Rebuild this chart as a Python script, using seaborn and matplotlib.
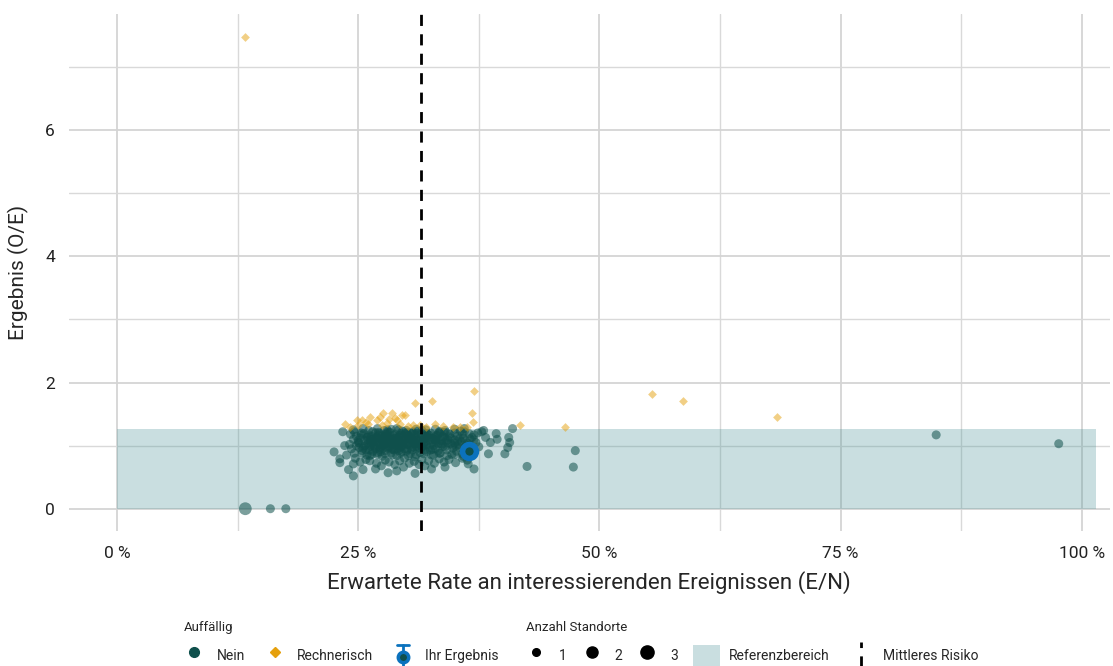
import numpy as np
import pandas as pd
import seaborn as sns
import matplotlib.pyplot as plt
from matplotlib.lines import Line2D
from matplotlib.patches import Patch
from matplotlib.legend_handler import HandlerBase
from matplotlib.ticker import FuncFormatter, MultipleLocator

# Erwartete Rate (E/N) in %, Ergebnis (O/E) -- Standorte "Nein"
nein_x = [
    24.1, 24.3, 24.5, 24.6, 24.8, 25.0, 25.1, 25.3, 25.4, 25.6, 25.7, 25.9, 25.9, 24.2, 24.7, 25.2, 25.8,
    26.0, 26.1, 26.2, 26.3, 26.4, 26.5, 26.6, 26.7, 26.8, 26.9, 27.0, 27.1, 27.2, 27.3, 27.4, 27.5, 27.6,
    27.7, 27.8, 27.9, 26.2, 26.9, 27.4, 27.8, 26.5, 27.0, 27.5, 26.3, 27.2, 27.7,
    28.0, 28.1, 28.2, 28.3, 28.4, 28.5, 28.6, 28.7, 28.8, 28.9, 29.0, 29.1, 29.2, 29.3, 29.4, 29.5, 29.6,
    29.7, 29.8, 29.9, 28.2, 28.8, 29.3, 29.7, 28.5, 29.0, 29.5, 28.0, 28.7, 29.2, 29.9, 28.4, 29.6,
    30.0, 30.1, 30.2, 30.3, 30.4, 30.5, 30.6, 30.7, 30.8, 30.9, 31.0, 31.1, 31.2, 31.3, 31.4, 31.5, 31.6,
    31.7, 31.8, 31.9, 30.3, 30.8, 31.3, 31.9, 30.6, 31.1, 31.6, 30.0, 30.9,
    32.0, 32.1, 32.2, 32.4, 32.5, 32.6, 32.8, 32.9, 33.0, 33.2, 33.3, 33.5, 33.6, 33.8, 33.9, 32.3, 32.9,
    33.4, 33.9, 32.7, 33.1,
    34.0, 34.2, 34.3, 34.5, 34.7, 34.8, 35.0, 35.2, 35.3, 35.5, 35.7, 35.9, 36.0, 36.2, 36.4, 36.6, 36.8,
    37.0, 34.4, 35.1, 35.8, 36.3, 37.2, 37.4,
    25.2, 25.6, 26.0, 26.4, 26.7, 27.1, 27.3, 27.6, 27.9, 28.3, 28.6, 28.9, 29.1, 29.4, 29.8, 30.1, 30.4,
    30.7, 31.0, 31.2, 31.5, 31.8, 32.1, 32.4, 32.7, 33.0, 33.3, 33.7, 34.1, 34.6, 35.0, 35.4, 35.9,
    26.1, 27.0, 28.0, 29.0, 30.0, 31.0, 32.0, 33.0, 34.0, 35.0, 36.0, 24.5, 25.5,
    26.6, 27.4, 28.1, 28.8, 29.5, 30.2, 30.9, 31.6, 32.3, 33.1, 33.8, 27.8, 29.2, 30.5, 31.9, 33.4,
    24.8, 25.3, 25.8, 26.3, 26.8, 27.3, 27.8, 28.3, 28.8, 29.3, 29.8, 30.3, 30.8, 31.3, 31.8, 32.3, 32.8,
    33.3, 33.8, 34.3, 34.8, 35.3, 35.8, 36.3, 36.8,
    25.0, 25.5, 26.0, 26.5, 27.0, 27.5, 28.0, 28.5, 29.0, 29.5, 30.0, 30.5, 31.0, 31.5, 32.0, 32.5, 33.0,
    33.5, 34.0, 34.5, 35.0, 35.5, 36.0, 36.5, 37.0,
    24.6, 25.1, 25.6, 26.1, 26.6, 27.1, 27.6, 28.1, 28.6, 29.1, 29.6, 30.1, 30.6, 31.1, 31.6, 32.1, 32.6,
    33.1, 33.6, 34.1, 34.6, 35.1, 35.6, 36.1, 36.6,
    25.4, 26.2, 27.0, 27.8, 28.6, 29.4, 30.2, 31.0, 31.8, 32.6, 33.4, 34.2, 35.0, 35.8, 36.6,
    22.5, 23.1, 23.1, 23.4, 23.6, 23.8, 24.5, 24.5, 24.0, 28.1, 30.9, 32.6, 37.0, 38.5, 38.7, 39.3,
    39.4, 40.2, 40.5, 40.7, 40.6, 41.0, 42.5, 47.3, 47.5, 84.9, 97.6, 37.8, 38.0, 36.4, 25.5, 26.8,
    29.0, 34.0, 37.5, 38.2,
    13.3, 15.9, 17.5,
]
nein_y = [
    1.02, 0.95, 1.10, 0.88, 1.15, 1.05, 0.97, 1.20, 0.92, 1.08, 1.00, 1.13, 0.85, 1.18, 0.80, 0.74, 0.78,
    1.03, 1.17, 0.93, 1.10, 0.86, 1.22, 1.00, 1.07, 0.95, 1.14, 0.89, 1.04, 1.19, 0.97, 1.11, 0.83, 1.01,
    1.24, 0.92, 1.08, 0.76, 0.72, 0.68, 0.77, 1.05, 1.12, 1.16, 0.99, 0.94, 1.02,
    1.15, 0.96, 1.06, 1.21, 0.88, 1.02, 1.12, 0.93, 1.18, 1.00, 0.84, 1.09, 1.25, 0.97, 1.05, 0.90, 1.14,
    1.01, 0.80, 1.20, 0.74, 0.70, 0.76, 0.66, 1.10, 1.03, 1.17, 0.99, 1.07, 0.92, 1.04, 1.26, 1.23,
    1.07, 0.94, 1.16, 1.01, 0.87, 1.11, 1.22, 0.98, 1.05, 0.82, 1.13, 0.95, 1.19, 1.03, 0.89, 1.09, 0.78,
    1.15, 1.00, 0.93, 0.72, 0.75, 0.70, 0.68, 1.04, 1.08, 1.24, 0.91, 1.17,
    1.06, 0.90, 1.14, 0.97, 1.20, 1.02, 0.85, 1.10, 0.95, 1.16, 1.03, 0.88, 1.08, 0.99, 1.21, 0.76, 0.72,
    0.79, 0.74, 1.12, 1.05,
    1.12, 0.93, 1.04, 1.18, 0.86, 1.00, 1.09, 0.91, 1.15, 0.97, 1.06, 0.83, 1.22, 1.01, 0.89, 1.11, 0.95,
    1.17, 0.78, 0.73, 0.80, 0.77, 1.05, 1.20,
    1.12, 0.99, 1.09, 1.15, 0.98, 1.21, 1.06, 0.96, 1.15, 1.03, 0.95, 1.13, 1.00, 1.19, 1.10, 1.02, 1.14,
    1.09, 0.99, 1.06, 1.18, 1.10, 1.01, 1.08, 0.94, 1.13, 1.19, 1.02, 1.07, 1.03, 1.20, 1.02, 1.12,
    1.24, 1.27, 1.25, 1.27, 1.24, 1.26, 1.25, 1.26, 1.24, 1.26, 1.27, 1.25, 1.27,
    1.08, 1.01, 1.11, 1.06, 0.99, 1.12, 1.03, 0.97, 1.17, 1.09, 1.14, 1.18, 1.13, 1.20, 1.11, 1.22,
    1.00, 1.17, 0.93, 1.06, 1.20, 0.90, 1.12, 0.98, 1.08, 1.16, 0.95, 1.10, 1.20, 0.97, 1.05, 1.17, 1.00,
    0.92, 1.14, 1.09, 0.96, 1.07, 1.18, 1.04, 1.13,
    1.08, 0.96, 1.14, 0.91, 1.02, 1.10, 1.19, 0.94, 1.12, 1.03, 1.18, 0.96, 1.09, 1.01, 1.15, 0.93, 1.07,
    1.22, 0.98, 1.14, 1.04, 1.11, 0.97, 1.19, 1.09,
    1.22, 1.04, 1.19, 0.98, 1.11, 1.16, 1.05, 1.22, 1.16, 0.95, 1.08, 1.21, 0.93, 1.23, 0.99, 1.19, 1.10,
    1.16, 1.03, 1.21, 1.12, 0.99, 1.23, 1.08, 1.00,
    0.88, 0.84, 0.86, 0.87, 0.85, 0.88, 0.84, 0.86, 0.87, 0.85, 0.88, 0.84, 0.86, 0.87, 0.85,
    0.90, 0.79, 0.73, 1.22, 1.00, 0.85, 0.52, 0.71, 0.62, 0.57, 0.56, 0.63, 0.63, 0.87, 1.05, 1.19,
    1.10, 0.87, 0.97, 1.05, 1.13, 1.27, 0.67, 0.66, 0.92, 1.17, 1.03, 1.22, 1.24, 0.71, 0.62, 0.63,
    0.60, 0.66, 0.98, 1.13,
    0.00, 0.00, 0.00,
]
nein_n = [1] * (len(nein_x) - 3) + [3, 1, 1]

# Standorte "Rechnerisch"
rech_x = [13.3, 55.4, 58.7, 68.4, 46.4, 41.8, 37.0, 36.8, 36.9, 30.9, 32.7,
          23.6, 24.9, 25.4, 26.2, 26.9, 27.6, 28.5, 28.8, 29.5, 29.9, 33.0, 34.8, 36.3,
          30.7, 31.4, 29.0, 29.3, 24.2, 25.0, 26.0, 27.5, 28.0, 30.2, 32.0, 33.8, 35.5,
          25.8, 27.3, 28.2]
rech_y = [7.47, 1.81, 1.70, 1.46, 1.29, 1.32, 1.87, 1.51, 1.37, 1.67, 1.70,
          1.35, 1.40, 1.40, 1.46, 1.40, 1.51, 1.52, 1.44, 1.48, 1.48, 1.35, 1.29, 1.29,
          1.32, 1.32, 1.40, 1.35, 1.30, 1.32, 1.34, 1.33, 1.36, 1.31, 1.30, 1.31, 1.30,
          1.38, 1.45, 1.42]

# Ihr Ergebnis
ihr_x, ihr_y = 36.5, 0.92
ihr_lo, ihr_hi = 0.87, 0.97

ref_lo, ref_hi = 0.0, 1.27
ref_xmax = 101.5
mittleres_risiko = 31.5

teal = '#0F504C'
orange = '#E5A00D'
blue = '#0B72BD'
shade = '#4D9499'

nein = pd.DataFrame({'x': np.array(nein_x) / 100, 'y': nein_y, 'n': nein_n})
rech = pd.DataFrame({'x': np.array(rech_x) / 100, 'y': rech_y})

sns.set_style('white')
plt.rcParams['font.family'] = ['Roboto', 'DejaVu Sans']

fig = plt.figure(figsize=(11.13, 6.66), dpi=100)
ax = fig.add_axes([0.062, 0.203, 0.935, 0.776])

ax.fill_between([0, ref_xmax / 100], ref_lo, ref_hi, color=shade, alpha=0.3, lw=0, zorder=1)

sns.scatterplot(data=nein, x='x', y='y', size='n', sizes={1: 42, 3: 85},
                color=teal, alpha=0.55, linewidth=0, legend=False, ax=ax, zorder=3)
sns.scatterplot(data=rech, x='x', y='y', marker='D', s=20,
                color=orange, alpha=0.5, linewidth=0, legend=False, ax=ax, zorder=4)

ax.errorbar([ihr_x / 100], [ihr_y], yerr=[[ihr_y - ihr_lo], [ihr_hi - ihr_y]],
            fmt='o', color=blue, mfc=teal, mec=blue, ms=10, mew=4,
            elinewidth=2, capsize=4, zorder=5)

ax.axvline(mittleres_risiko / 100, color='black', lw=2, ls=(0, (4, 3)), zorder=6)

ax.set_xlim(-0.0497, 1.0288)
ax.set_ylim(-0.35, 7.84)
ax.xaxis.set_major_locator(MultipleLocator(0.25))
ax.xaxis.set_minor_locator(MultipleLocator(0.125))
ax.yaxis.set_major_locator(MultipleLocator(2))
ax.yaxis.set_minor_locator(MultipleLocator(1))
ax.xaxis.set_major_formatter(FuncFormatter(lambda v, p: f'{int(round(v * 100))} %'))
ax.grid(which='major', color='#D4D4D4', lw=1.3, zorder=0)
ax.grid(which='minor', color='#D9D9D9', lw=1.0, zorder=0)
ax.set_axisbelow(True)
for s in ax.spines.values():
    s.set_visible(False)
ax.tick_params(which='both', length=0, labelsize=12.5, colors='#222222')
ax.tick_params(axis='x', pad=11)
ax.tick_params(axis='y', pad=10)
ax.set_xlabel('Erwartete Rate an interessierenden Ereignissen (E/N)', fontsize=16, labelpad=7)
ax.set_ylabel('Ergebnis (O/E)', fontsize=15, labelpad=12)


class HandlerDashV(HandlerBase):
    def create_artists(self, legend, orig, xd, yd, w, h, fs, trans):
        x = w / 2 - xd
        ln = Line2D([x, x], [-yd - 6, h - yd + 2], color='black', lw=2,
                    ls=(0, (4, 3)), transform=trans)
        return [ln]


class HandlerIhr(HandlerBase):
    def create_artists(self, legend, orig, xd, yd, w, h, fs, trans):
        x = w / 2 - xd
        y0, y1 = -yd - 2, h - yd
        bar = Line2D([x, x], [y0, y1], color=blue, lw=2, transform=trans)
        c1 = Line2D([x - 4, x + 4], [y0, y0], color=blue, lw=2, transform=trans)
        c2 = Line2D([x - 4, x + 4], [y1, y1], color=blue, lw=2, transform=trans)
        dot = Line2D([x], [h / 2 - yd - 1], marker='o', ms=7.5, mfc=teal, mec=blue, mew=2.5,
                     ls='none', transform=trans)
        return [bar, c1, c2, dot]


leg_kw = dict(frameon=False, fontsize=10, handleheight=2.0, borderpad=0)

ihr_handle = Line2D([], [], color=blue)
h_auff = [Line2D([], [], marker='o', ls='none', color=teal, ms=7),
          Line2D([], [], marker='D', ls='none', color=orange, ms=5),
          ihr_handle]
leg1 = fig.legend(h_auff, ['Nein', 'Rechnerisch', 'Ihr Ergebnis'], title='Auffällig',
                  loc='upper left', bbox_to_anchor=(0.159, 0.0773), ncol=3,
                  title_fontsize=9.5, handlelength=1.5, handletextpad=0.85,
                  columnspacing=1.4, alignment='left', labelspacing=0.75,
                  handler_map={ihr_handle: HandlerIhr()}, **leg_kw)

h_n = [Line2D([], [], marker='o', ls='none', color='black', ms=s) for s in (5.5, 8, 9.5)]
leg2 = fig.legend(h_n, ['1', '2', '3'], title='Anzahl Standorte',
                  loc='upper left', bbox_to_anchor=(0.466, 0.0773), ncol=3,
                  title_fontsize=9.5, handlelength=1.5, handletextpad=0.9,
                  columnspacing=1.05, alignment='left', labelspacing=0.75, **leg_kw)

dash_handle = Line2D([], [], color='black')
h_ref = [Patch(facecolor=shade, alpha=0.3, lw=0), dash_handle]
leg3 = fig.legend(h_ref, ['Referenzbereich', 'Mittleres Risiko'],
                  loc='center left', bbox_to_anchor=(0.616, 0.0155), ncol=2,
                  handlelength=2.0, handletextpad=0.6, columnspacing=1.3,
                  handler_map={dash_handle: HandlerDashV()}, **leg_kw)

plt.savefig('out.png', dpi=100)
